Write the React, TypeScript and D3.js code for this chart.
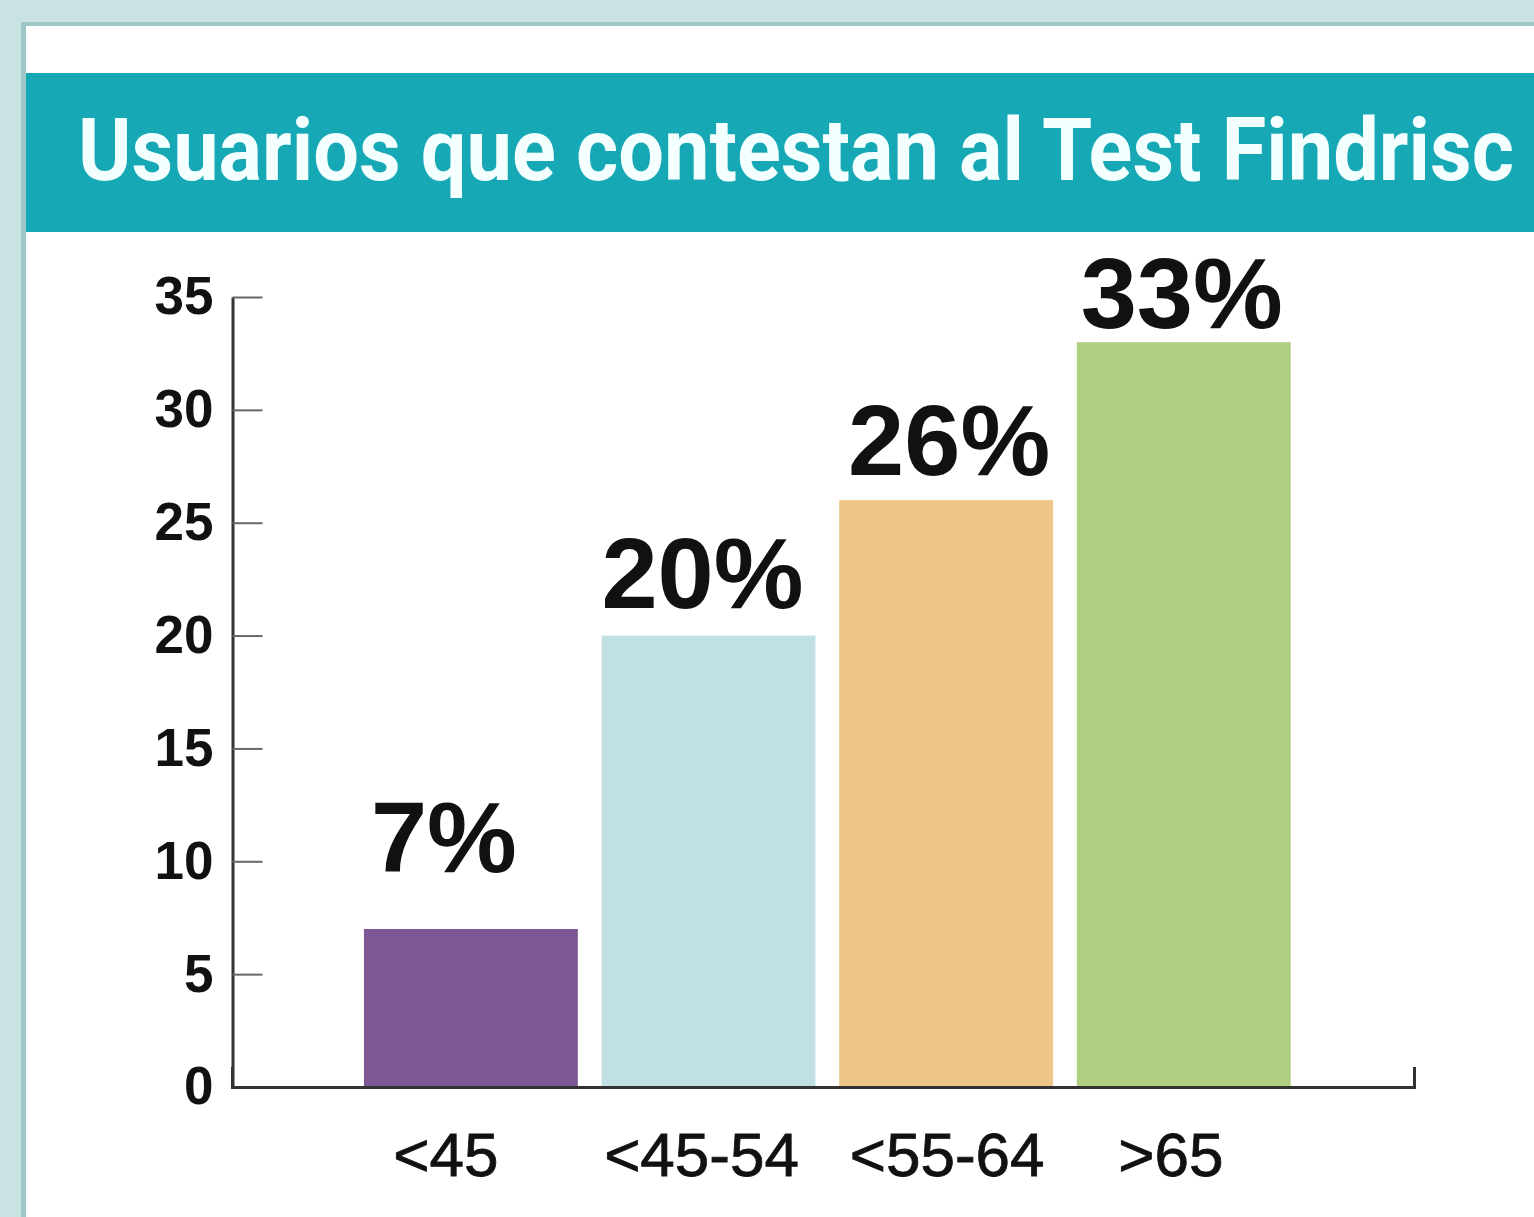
import { useEffect, useRef } from "react";
import * as d3 from "d3";

const title = "Usuarios que contestan al Test Findrisc";
const categories = ["<45", "<45-54", "<55-64", ">65"];
const values = [7, 20, 26, 33];
const valueLabels = ["7%", "20%", "26%", "33%"];
const yTicks = [0, 5, 10, 15, 20, 25, 30, 35];

const barColors = ["#7e5895", "#c1e0e4", "#f0c58a", "#afd080"];
// small hand nudges so the labels sit where the original put them
const labelGap = [57, 28, 25, 14];
const labelDx = [-27, -6, 3, -2];
const catDx = [-25, -7, 1, -13];

const W = 1534;
const H = 1217;

export default function App() {
  const ref = useRef<SVGSVGElement>(null);

  const x = d3
    .scaleBand()
    .domain(categories)
    .range([232, 1414])
    .paddingInner(0.1)
    .paddingOuter(0.537)
    .align(0.517);
  const y = d3.scaleLinear().domain([0, 35]).range([1087, 297]);

  useEffect(() => {
    document.body.style.margin = "0";
    const svg = d3.select(ref.current);

    const yAxis = d3
      .axisLeft(y)
      .tickValues(yTicks)
      .tickSizeInner(-30)
      .tickSizeOuter(0)
      .tickPadding(19);
    const gy = svg.select<SVGGElement>(".y-axis").call(yAxis);
    gy.select(".domain").attr("stroke", "#333").attr("stroke-width", 3);
    gy.selectAll(".tick line").attr("stroke", "#666").attr("stroke-width", 2);
    gy.selectAll(".tick text")
      .attr("fill", "#111")
      .attr("font-family", "'Liberation Sans', Arial, sans-serif")
      .attr("font-weight", "bold")
      .attr("font-size", 53);
    gy.attr("font-family", null).attr("font-size", null);

    const xAxis = d3.axisBottom(x).tickSizeInner(0).tickSizeOuter(-20).tickPadding(45);
    const gx = svg.select<SVGGElement>(".x-axis").call(xAxis);
    gx.select(".domain").attr("stroke", "#333").attr("stroke-width", 3);
    gx.selectAll(".tick text")
      .attr("fill", "#111")
      .attr("font-family", "'Liberation Sans', Arial, sans-serif")
      .attr("font-size", 62)
      .attr("stroke", "#111")
      .attr("stroke-width", 0.8)
      .attr("dx", (_d, i) => catDx[i]);
    gx.attr("font-family", null).attr("font-size", null);
  }, []);

  return (
    <svg ref={ref} width={W} height={H} style={{ display: "block" }}>
      <rect x={0} y={0} width={W} height={H} fill="#c8e3e2" />
      <rect x={21} y={22} width={W} height={H} fill="#9ec8c8" />
      <rect x={26} y={26} width={W} height={H} fill="#ffffff" />
      <rect x={26} y={73} width={W} height={159} fill="#16a8b4" />
      <text
        x={78}
        y={180}
        fill="#f4ffff"
        fontFamily="Roboto, 'Liberation Sans', sans-serif"
        fontWeight="bold"
        fontSize={88}
        textLength={1436}
        lengthAdjust="spacingAndGlyphs"
      >
        {title}
      </text>

      <g>
        {categories.map((c, i) => (
          <rect
            key={c}
            x={x(c)}
            y={y(values[i])}
            width={x.bandwidth()}
            height={y(0) - y(values[i])}
            fill={barColors[i]}
          />
        ))}
      </g>

      <g className="y-axis" transform="translate(232.5,0)" />
      <g className="x-axis" transform="translate(0,1087)" />

      <g
        fontFamily="'Liberation Sans', Arial, sans-serif"
        fontWeight="bold"
        fontSize={101}
        fill="#111"
        textAnchor="middle"
      >
        {categories.map((c, i) => (
          <text
            key={c}
            x={(x(c) ?? 0) + x.bandwidth() / 2 + labelDx[i]}
            y={y(values[i]) - labelGap[i]}
          >
            {valueLabels[i]}
          </text>
        ))}
      </g>
    </svg>
  );
}
